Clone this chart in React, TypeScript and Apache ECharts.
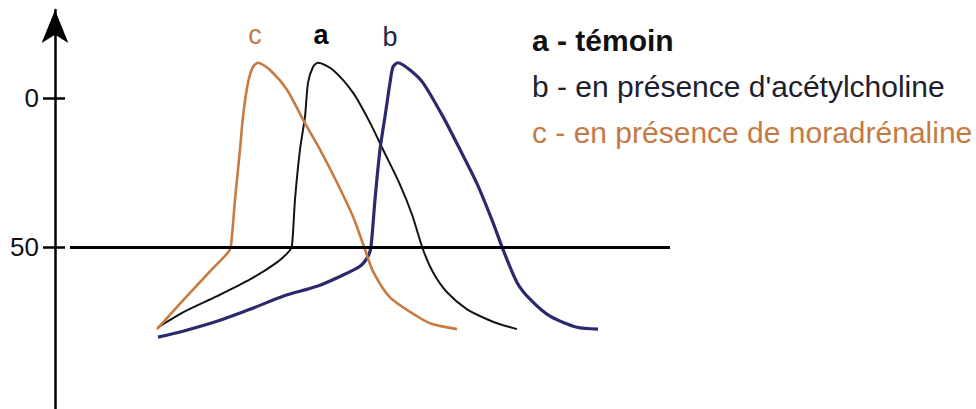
import React, { useEffect, useRef } from "react";
import * as echarts from "echarts";

// Arbitrary time units (x) and membrane potential in mV (y)
const seriesNames = ["a - témoin", "b - en présence d'acétylcholine", "c - en présence de noradrénaline"];
const curveLetters = ["a", "b", "c"];
const tickValues = [0, -50];
const tickLabels = ["0", "50"];
const thresholdLine = [[1.5, -50], [61.5, -50]];

const curveA: [number, number][] = [
  [10.3, -76.7], [12.8, -71.7], [16.2, -66.3], [19.5, -60.7], [22.2, -55], [23.4, -51.3],
  [23.7, -49.3], [24, -34], [24.5, -17.3], [25, -6.3], [25.3, 5], [25.8, 10.3],
  [26.3, 11.7], [27.8, 9.3], [29.8, 1.7], [31.5, -8.3], [32.8, -17.3], [34.5, -29],
  [35.7, -39], [36.8, -50.7], [37.8, -58.3], [39.2, -65], [41.2, -70.7], [43.2, -74],
  [44.5, -75.7], [46.2, -77.3],
];
const curveB: [number, number][] = [
  [10.3, -80], [12.8, -78], [16.2, -74.7], [19.5, -70.7], [22.8, -66.3], [26.2, -63],
  [28.5, -59.7], [30.5, -56.3], [31.3, -53], [31.6, -49.7], [32, -34], [32.5, -17.3],
  [33, -6.3], [33.5, 5], [33.8, 10.3], [34.3, 11.7], [35.5, 9.3], [36.8, 5],
  [38.8, -6.3], [40.5, -17.3], [42.2, -28.7], [43.8, -41.7], [44.8, -50.7], [46.2, -61.7],
  [47.5, -67.3], [49.5, -73], [52.2, -76.7], [54.3, -77.3],
];
const curveC: [number, number][] = [
  [10.2, -77.3], [12.8, -67.7], [15.5, -58], [17.3, -51.7], [17.6, -49.3], [18, -34],
  [18.5, -17.3], [18.8, -6.3], [19.3, 5], [19.8, 10.3], [20.3, 11.7], [21.5, 9.3],
  [23.2, 2.7], [24.8, -7.3], [26.5, -17.3], [28.2, -28.3], [29.8, -39.7], [31, -50.7],
  [31.8, -58], [33.5, -66.7], [36.2, -73], [37.8, -75.7], [40.2, -77.3],
];

const FONT = "'Liberation Sans', Arial, Helvetica, sans-serif";
const colors = ["#141414", "#2a2a6c", "#c97a3f"];
const letterColors = ["#000000", "#26264a", "#c27a46"];
const letterOffsets = [[3, 0], [-8, 2], [-3, 0]];
const legendColors = ["#111111", "#1e1e2e", "#c57a44"];
const widths = [2, 3.2, 2.6];
const curves = [curveA, curveB, curveC];

export default function App() {
  const ref = useRef<HTMLDivElement>(null);
  useEffect(() => {
    document.body.style.margin = "0";
    const chart = echarts.init(ref.current!, null, { renderer: "svg" });
    const peakOf = (c: [number, number][]) => c.reduce((m, p) => (p[1] > m[1] ? p : m), c[0]);
    const series: any[] = curves.map((data, i) => ({
      type: "line",
      name: seriesNames[i],
      data,
      smooth: 0.25,
      showSymbol: false,
      lineStyle: { color: colors[i], width: widths[i] },
      itemStyle: { color: colors[i] },
      z: 3,
      markPoint: {
        symbol: "circle",
        symbolSize: 0,
        data: [{ coord: [peakOf(data)[0], peakOf(data)[1]], value: curveLetters[i] }],
        label: {
          show: true,
          formatter: curveLetters[i],
          position: "top",
          distance: 14,
          offset: letterOffsets[i],
          color: letterColors[i],
          fontSize: 27,
          fontWeight: i === 0 ? "bold" : "normal",
          fontFamily: FONT,
        },
      },
    }));
    series[0].markLine = {
      silent: true,
      symbol: "none",
      label: { show: false },
      lineStyle: { color: "#000", width: 3, type: "solid" },
      data: [[{ coord: thresholdLine[0] }, { coord: thresholdLine[1] }]],
    };
    const yBase = {
      type: "value",
      min: -104,
      max: 29.33,
      position: "left",
      splitLine: { show: false },
    };
    chart.setOption({
      animation: false,
      backgroundColor: "#ffffff",
      grid: { left: 55, right: 0, top: 10, bottom: -1, containLabel: false },
      xAxis: { type: "value", min: 0, max: 92.1, show: false },
      yAxis: [
        {
          ...yBase,
          axisLine: {
            show: true,
            symbol: ["none", "arrow"],
            symbolSize: [20, 33],
            lineStyle: { color: "#000", width: 2.5 },
          },
          axisTick: {
            show: true,
            customValues: tickValues,
            length: 12,
            lineStyle: { color: "#000", width: 2.5 },
          },
          axisLabel: {
            show: true,
            customValues: tickValues,
            margin: 16,
            formatter: (v: number) => tickLabels[tickValues.indexOf(v)] ?? "",
            color: "#111",
            fontSize: 26,
            fontFamily: FONT,
          },
        },
        {
          ...yBase,
          axisLine: { show: false },
          axisTick: {
            show: true,
            inside: true,
            customValues: tickValues,
            length: 10,
            lineStyle: { color: "#000", width: 2.5 },
          },
          axisLabel: { show: false },
        },
      ],
      legend: {
        orient: "vertical",
        left: 522,
        top: 20,
        icon: "none",
        itemWidth: 0,
        itemHeight: 14,
        itemGap: 16,
        selectedMode: false,
        data: seriesNames.map((n, i) => ({
          name: n,
          textStyle: {
            color: legendColors[i],
            fontSize: 30,
            lineHeight: 30,
            fontWeight: i === 0 ? "bold" : "normal",
            fontFamily: FONT,
          },
        })),
      },
      series,
    });
    return () => chart.dispose();
  }, []);
  return <div ref={ref} style={{ position: "absolute", left: 0, top: 0, width: 976, height: 409 }} />;
}
